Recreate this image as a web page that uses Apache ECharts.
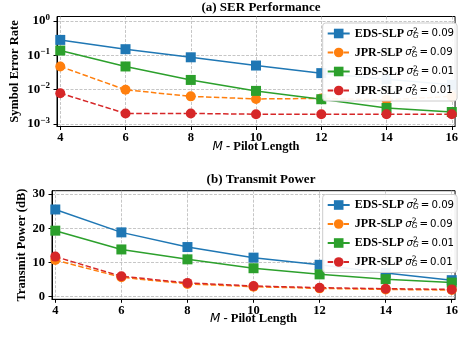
<!DOCTYPE html>
<html><head><meta charset="utf-8">
<script src="https://cdn.jsdelivr.net/npm/echarts@6/dist/echarts.min.js"></script>
<style>html,body{margin:0;padding:0;background:#fff}#c{width:461px;height:341px}</style>
</head><body><div id="c"></div>
<script>
// ---- data ----
const pilotLengths = [4, 6, 8, 10, 12, 14, 16];
const serEds009 = [0.28, 0.15, 0.087, 0.050, 0.030, 0.020, 0.0137];
const serJpr009 = [0.047, 0.0098, 0.0063, 0.0053, 0.0055, 0.0050, 0.0063];
const serEds001 = [0.137, 0.047, 0.019, 0.0091, 0.0052, 0.0029, 0.0022];
const serJpr001 = [0.0078, 0.0020, 0.0020, 0.0019, 0.0019, 0.0019, 0.0019];
const powEds009 = [25.5, 18.8, 14.5, 11.4, 9.3, 6.9, 4.8];
const powJpr009 = [10.7, 5.65, 3.7, 2.9, 2.4, 2.1, 1.9];
const powEds001 = [19.3, 13.8, 10.9, 8.3, 6.5, 5.1, 4.1];
const powJpr001 = [11.7, 5.95, 4.0, 3.1, 2.6, 2.3, 2.1];
const serTickExponents = [-3, -2, -1, 0];
const powTicks = [0, 10, 20, 30];
const seriesNames = ['EDS-SLP|0.09', 'JPR-SLP|0.09', 'EDS-SLP|0.01', 'JPR-SLP|0.01'];
const titles = ['(a) SER Performance', '(b) Transmit Power'];
const yNames = ['Symbol Error Rate', 'Transmit Power (dB)'];

// ---- styles ----
const SERIF = 'Liberation Serif';
const colors = ['#1f77b4', '#ff7f0e', '#2ca02c', '#d62728'];
const symbols = ['rect', 'circle', 'rect', 'circle'];
const dashed = [false, true, false, true];
const boldSerif = { fontFamily: SERIF, fontWeight: 'bold', fontSize: 12.5, color: '#000' };

const legendRich = {
  b: { fontFamily: SERIF, fontWeight: 'bold', fontSize: 12, color: '#000', lineHeight: 13, padding: [0, 2.5, 0, 0] },
  m: { fontFamily: 'DejaVu Sans', fontStyle: 'italic', fontSize: 10.2, color: '#000', lineHeight: 13 },
  sp: { fontFamily: 'DejaVu Sans', fontSize: 7.5, color: '#000', verticalAlign: 'top', width: 0, lineHeight: 13 },
  sb: { fontFamily: 'DejaVu Sans', fontStyle: 'italic', fontSize: 7.5, color: '#000', verticalAlign: 'bottom', lineHeight: 11 },
  e: { fontFamily: 'DejaVu Sans', fontSize: 10.2, color: '#000', lineHeight: 13 }
};
function legendFmt(name) {
  const [algo, v] = name.split('|');
  return '{b|' + algo + '}{m|σ}{sp|2}{sb|G}{e|\u2009=\u2009' + v + '}';
}

const grids = [
  { left: 52, right: 1, top: 16.5, height: 110 },
  { left: 52, right: 1, top: 190.7, height: 108.6 }
];

function xAxis(gi) {
  return {
    type: 'value', gridIndex: gi, min: 3.9, max: 16.1,
    axisLine: { show: true, onZero: false, lineStyle: { color: '#000', width: 1 } },
    axisTick: { show: true, length: 3.5, customValues: pilotLengths, lineStyle: { color: '#000' } },
    axisLabel: Object.assign({ customValues: pilotLengths, margin: 5 }, boldSerif),
    splitLine: { show: true, lineStyle: { color: '#b8b8b8', type: [3, 1.5], width: 0.8 } },
    name: '{m|M}{b| - Pilot Length}', nameLocation: 'middle', nameGap: gi === 0 ? 14 : 13, nameMoveOverlap: false,
    nameTextStyle: {
      rich: {
        m: { fontFamily: 'DejaVu Sans', fontStyle: 'italic', fontSize: 12, color: '#000' },
        b: { fontFamily: SERIF, fontWeight: 'bold', fontSize: 12.5, color: '#000' }
      }
    }
  };
}

const yAxes = [
  {
    type: 'value', gridIndex: 0, min: -3.08, max: 0.13,
    axisLine: { show: true, lineStyle: { color: '#000', width: 1 } },
    axisTick: { show: true, length: 3.5, customValues: serTickExponents, lineStyle: { color: '#000' } },
    axisLabel: {
      customValues: serTickExponents, margin: 7,
      formatter: v => '{b|10}{s|' + (v < 0 ? '\u2212' + (-v) : v) + '}',
      rich: {
        b: { fontFamily: SERIF, fontWeight: 'bold', fontSize: 13, color: '#000', lineHeight: 16 },
        s: { fontFamily: SERIF, fontWeight: 'bold', fontSize: 9, color: '#000', verticalAlign: 'top', lineHeight: 10 }
      }
    },
    splitLine: { show: true, lineStyle: { color: '#b8b8b8', type: [3, 1.5], width: 0.8 } },
    name: yNames[0], nameLocation: 'middle', nameGap: 36, nameMoveOverlap: false, nameTextStyle: boldSerif
  },
  {
    type: 'value', gridIndex: 1, min: -0.8, max: 31,
    axisLine: { show: true, lineStyle: { color: '#000', width: 1 } },
    axisTick: { show: true, length: 3.5, customValues: powTicks, lineStyle: { color: '#000' } },
    axisLabel: Object.assign({ customValues: powTicks, margin: 7 }, boldSerif),
    splitLine: { show: true, lineStyle: { color: '#b8b8b8', type: [3, 1.5], width: 0.8 } },
    name: yNames[1], nameLocation: 'middle', nameGap: 24, nameMoveOverlap: false, nameTextStyle: boldSerif
  }
];

const serData = [serEds009, serJpr009, serEds001, serJpr001];
const powData = [powEds009, powJpr009, powEds001, powJpr001];

function mkSeries(gi, values, idx, transform) {
  return {
    type: 'line', name: seriesNames[idx], xAxisIndex: gi, yAxisIndex: gi,
    data: pilotLengths.map((x, i) => [x, transform(values[i])]),
    symbol: symbols[idx], symbolSize: 10, showSymbol: true,
    itemStyle: { color: colors[idx] },
    lineStyle: { color: colors[idx], width: 1.5, type: dashed[idx] ? [5.5, 2.4] : 'solid' },
    emphasis: { disabled: true }, clip: true
  };
}

const series = [];
serData.forEach((vals, i) => series.push(mkSeries(0, vals, i, v => Math.log10(v))));
powData.forEach((vals, i) => series.push(mkSeries(1, vals, i, v => v)));

function legend(top) {
  return {
    orient: 'vertical', left: 322.7, top: top, padding: [4, 3, 4, 4], itemGap: 6,
    itemWidth: 22, itemHeight: 12,
    backgroundColor: 'rgba(255,255,255,0.93)', borderColor: '#cccccc', borderWidth: 1, borderRadius: 3,
    formatter: legendFmt, textStyle: { rich: legendRich },
    data: seriesNames, selectedMode: false
  };
}

const chart = echarts.init(document.getElementById('c'), null, { renderer: 'canvas' });
chart.setOption({
  animation: false,
  backgroundColor: '#fff',
  title: titles.map((t, i) => ({
    text: t, left: 256, textAlign: 'center', top: i === 0 ? -4 : 168, padding: 5,
    textStyle: { fontFamily: SERIF, fontWeight: 'bold', fontSize: 13, color: '#000' }
  })),
  grid: grids.map(g => Object.assign({ show: true, borderColor: '#000', borderWidth: 1, backgroundColor: 'transparent' }, g)),
  xAxis: [xAxis(0), xAxis(1)],
  yAxis: yAxes,
  legend: [legend(23), legend(194.5)],
  series: series
});
</script></body></html>
